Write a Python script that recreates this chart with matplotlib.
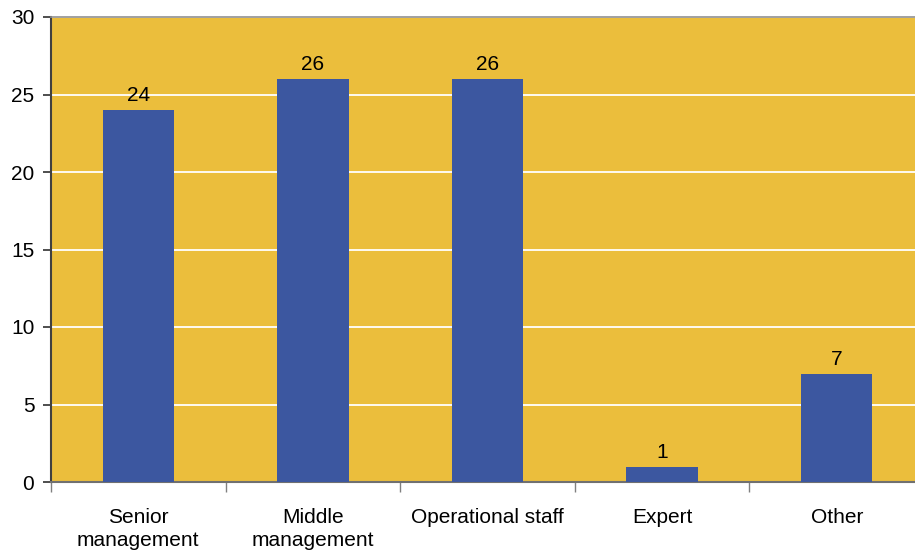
import matplotlib
matplotlib.use("Agg")
import matplotlib.pyplot as plt
import numpy as np

plt.rcParams['font.family'] = ['Liberation Sans', 'DejaVu Sans']

categories = ["Senior\nmanagement", "Middle\nmanagement", "Operational staff", "Expert", "Other"]
values = [24, 26, 26, 1, 7]
yticks = [0, 5, 10, 15, 20, 25, 30]

bg = "#EBBE3C"
bar_color = "#3C57A0"
fs = 15

fig = plt.figure(figsize=(9.15, 5.5), dpi=100)
ax = fig.add_axes([51 / 915, 68 / 550, 873 / 915, 465 / 550])
ax.set_facecolor(bg)

x = np.arange(len(categories))
ax.bar(x, values, width=0.41, color=bar_color, zorder=3)

for xi, v in zip(x, values):
    ax.text(xi, v + 0.3, str(v), ha="center", va="bottom", fontsize=fs, color="black", zorder=4)

ax.set_xlim(-0.5, len(categories) - 0.5)
ax.set_ylim(0, 30)
ax.set_yticks(yticks)
ax.set_yticklabels([str(t) for t in yticks], fontsize=fs)
ax.yaxis.grid(True, color="white", linewidth=1.3, zorder=1)
ax.set_axisbelow(True)

# category labels centered, tick marks on category boundaries
ax.set_xticks(x)
ax.set_xticklabels(categories, fontsize=fs, linespacing=1.25)
ax.tick_params(axis="x", length=0, pad=19)
ax.set_xticks(np.arange(-0.5, len(categories) + 0.5, 1), minor=True)
ax.tick_params(axis="x", which="minor", length=7, width=1, color="#808080", direction="out")
ax.tick_params(axis="y", length=6, width=1.2, color="#303030", pad=6)

ax.spines["right"].set_visible(False)
ax.spines["top"].set_color("#909090")
ax.spines["top"].set_linewidth(1.2)
ax.spines["left"].set_color("#404040")
ax.spines["left"].set_linewidth(1.5)
ax.spines["bottom"].set_color("#707070")
ax.spines["bottom"].set_linewidth(1.5)

fig.savefig("out.png", dpi=100)
